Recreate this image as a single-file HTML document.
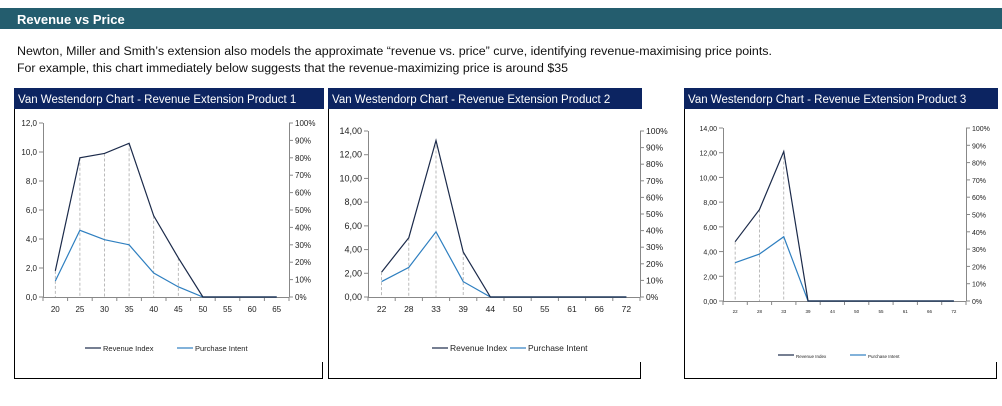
<!DOCTYPE html>
<html><head><meta charset="utf-8"><style>
html,body{margin:0;padding:0;background:#fff;}
svg{display:block;font-family:"Liberation Sans",sans-serif;}
</style></head><body>
<svg id="s" width="1002" height="406" xmlns="http://www.w3.org/2000/svg">
<rect x="0" y="8" width="1002" height="21" fill="#245d6e"/>
<text x="17" y="24" fill="#fff" font-size="13" font-weight="bold">Revenue vs Price</text>
<text x="17" y="55" font-size="11.5" fill="#111" textLength="755" lengthAdjust="spacingAndGlyphs">Newton, Miller and Smith’s extension also models the approximate “revenue vs. price” curve, identifying revenue-maximising price points.</text>
<text x="17" y="72" font-size="11.5" fill="#111" textLength="551" lengthAdjust="spacingAndGlyphs">For example, this chart immediately below suggests that the revenue-maximizing price is around $35</text>
</svg>
<script>
var s=document.getElementById('s'),ns='http://www.w3.org/2000/svg';
function el(t,a,txt){var e=document.createElementNS(ns,t);for(var k in a)e.setAttribute(k,a[k]);if(txt!=null)e.textContent=txt;s.appendChild(e);return e;}
function panel(o){
 el('rect',{x:o.bx,y:88,width:o.bw,height:21,fill:'#0c2461'});
 el('text',{x:o.bx+4,y:103,fill:'#fff','font-size':11.5},o.title);
 el('line',{x1:o.bx+0.5,y1:109,x2:o.bx+0.5,y2:378.5,stroke:'#000'});
 el('line',{x1:o.bx,y1:378.5,x2:o.bx+o.bw-1,y2:378.5,stroke:'#000'});
 el('line',{x1:o.bx+o.bw-1.5,y1:362,x2:o.bx+o.bw-1.5,y2:378.5,stroke:'#000'});
 var L=o.L,R=o.R,T=o.T,B=o.B,n=10,st=(R-L)/n;
 var X=function(i){return L+st/2+st*i},Y=function(v){return B-v*(B-T)/o.max};
 o.rev.forEach(function(v,i){if(v>0)el('line',{x1:X(i),y1:Y(v),x2:X(i),y2:B,stroke:'#aaa','stroke-dasharray':'3,2','stroke-width':0.8});});
 el('line',{x1:L+0.5,y1:T,x2:L+0.5,y2:B,stroke:'#888'});
 el('line',{x1:R+0.5,y1:T,x2:R+0.5,y2:B,stroke:'#888'});
 el('line',{x1:L,y1:B+0.5,x2:R,y2:B+0.5,stroke:'#888'});
 for(var k=0;k<=o.max/2;k++){var y=Y(k*2);el('line',{x1:L-4,y1:y,x2:L,y2:y,stroke:'#888'});
  el('text',{x:L-6,y:y+3,'font-size':o.fs,'text-anchor':'end',fill:'#222'},(k*2).toFixed(o.dec).replace('.',','));}
 for(var k=0;k<=10;k++){var y=B-(B-T)*k/10;el('line',{x1:R,y1:y,x2:R+4,y2:y,stroke:'#888'});
  el('text',{x:R+6,y:y+3,'font-size':o.fs2,fill:'#222'},k*10+'%');}
 for(var i=0;i<=n;i++){var x=L+st*i;el('line',{x1:x,y1:B,x2:x,y2:B+4,stroke:'#888'});}
 o.xl.forEach(function(t,i){el('text',{x:X(i),y:B+o.xo,'font-size':o.xfs,'text-anchor':'middle',fill:'#222'},t);});
 function line(d,c){var p=[];for(var i=0;i<n;i++)p.push(X(i)+','+Y(d[i]||0));el('polyline',{points:p.join(' '),fill:'none',stroke:c,'stroke-width':1.2});}
 line(o.pi,'#2e7fc0');line(o.rev,'#1b2a4a');
 var g=o.lg;
 el('line',{x1:g[0],y1:g[2],x2:g[0]+16,y2:g[2],stroke:'#1b2a4a','stroke-width':1.2});
 el('text',{x:g[0]+18,y:g[2]+3,'font-size':o.lfs,fill:'#222'},'Revenue Index');
 el('line',{x1:g[1],y1:g[2],x2:g[1]+16,y2:g[2],stroke:'#2e7fc0','stroke-width':1.2});
 el('text',{x:g[1]+18,y:g[2]+3,'font-size':o.lfs,fill:'#222'},'Purchase Intent');
}
panel({bx:14,bw:310,title:'Van Westendorp Chart - Revenue Extension Product 1',L:43,R:289,T:123,B:297,max:12,dec:1,fs:8,fs2:8,xfs:8,xo:15,lfs:7.5,
 rev:[1.8,9.6,9.9,10.6,5.6,2.7,0,0,0,0],pi:[1.1,4.6,3.95,3.6,1.65,0.7,0,0,0,0],xl:['20','25','30','35','40','45','50','55','60','65'],lg:[85,177,348]});
panel({bx:328,bw:314,title:'Van Westendorp Chart - Revenue Extension Product 2',L:368,R:640,T:131,B:297,max:14,dec:2,fs:9,fs2:8.5,xfs:8.5,xo:15,lfs:8.5,
 rev:[2.1,5,13.2,3.8,0,0,0,0,0,0],pi:[1.3,2.5,5.5,1.3,0,0,0,0,0,0],xl:['22','28','33','39','44','50','55','61','66','72'],lg:[432,510,348]});
panel({bx:684,bw:314,title:'Van Westendorp Chart - Revenue Extension Product 3',L:723,R:966,T:128,B:301,max:14,dec:2,fs:7,fs2:7,xfs:4.5,xo:12,lfs:4.5,
 rev:[4.8,7.4,12.1,0,0,0,0,0,0,0],pi:[3.1,3.8,5.2,0,0,0,0,0,0,0],xl:['22','28','33','39','44','50','55','61','66','72'],lg:[778,850,355]});
</script>
</body></html>
